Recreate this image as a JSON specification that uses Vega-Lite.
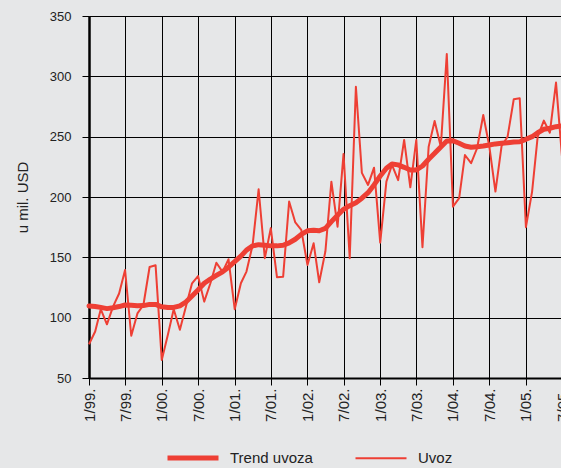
{
  "$schema": "https://vega.github.io/schema/vega-lite/v6.json",
  "autosize": {"type": "none"},
  "width": 473,
  "height": 362,
  "padding": {"left": 89, "top": 16, "right": 0, "bottom": 90},
  "background": "#e6e7e8",
  "view": {"stroke": null},
  "config": {"font": "Liberation Sans"},
  "data": {"values": [
    {"date": "1999-01-01", "Uvoz": 78, "Trend uvoza": 109.7},
    {"date": "1999-02-01", "Uvoz": 88.5, "Trend uvoza": 109.3},
    {"date": "1999-03-01", "Uvoz": 107, "Trend uvoza": 108.5},
    {"date": "1999-04-01", "Uvoz": 94.5, "Trend uvoza": 107.5},
    {"date": "1999-05-01", "Uvoz": 109, "Trend uvoza": 108.2},
    {"date": "1999-06-01", "Uvoz": 120, "Trend uvoza": 109.2},
    {"date": "1999-07-01", "Uvoz": 139.5, "Trend uvoza": 110.5},
    {"date": "1999-08-01", "Uvoz": 85, "Trend uvoza": 110.3},
    {"date": "1999-09-01", "Uvoz": 103.5, "Trend uvoza": 109.8},
    {"date": "1999-10-01", "Uvoz": 110.5, "Trend uvoza": 110},
    {"date": "1999-11-01", "Uvoz": 142, "Trend uvoza": 111},
    {"date": "1999-12-01", "Uvoz": 143.5, "Trend uvoza": 111},
    {"date": "2000-01-01", "Uvoz": 65, "Trend uvoza": 109},
    {"date": "2000-02-01", "Uvoz": 86, "Trend uvoza": 108.5},
    {"date": "2000-03-01", "Uvoz": 107, "Trend uvoza": 108.5},
    {"date": "2000-04-01", "Uvoz": 90, "Trend uvoza": 109.8},
    {"date": "2000-05-01", "Uvoz": 109, "Trend uvoza": 113},
    {"date": "2000-06-01", "Uvoz": 128.5, "Trend uvoza": 118},
    {"date": "2000-07-01", "Uvoz": 134.5, "Trend uvoza": 123},
    {"date": "2000-08-01", "Uvoz": 113.3, "Trend uvoza": 128.5},
    {"date": "2000-09-01", "Uvoz": 128.5, "Trend uvoza": 132},
    {"date": "2000-10-01", "Uvoz": 145.5, "Trend uvoza": 135},
    {"date": "2000-11-01", "Uvoz": 138, "Trend uvoza": 138},
    {"date": "2000-12-01", "Uvoz": 148.4, "Trend uvoza": 141.8},
    {"date": "2001-01-01", "Uvoz": 107, "Trend uvoza": 146.4},
    {"date": "2001-02-01", "Uvoz": 128.5, "Trend uvoza": 151},
    {"date": "2001-03-01", "Uvoz": 138.2, "Trend uvoza": 156},
    {"date": "2001-04-01", "Uvoz": 160.3, "Trend uvoza": 159.5},
    {"date": "2001-05-01", "Uvoz": 206.4, "Trend uvoza": 160.5},
    {"date": "2001-06-01", "Uvoz": 149.3, "Trend uvoza": 160},
    {"date": "2001-07-01", "Uvoz": 174.2, "Trend uvoza": 159.5},
    {"date": "2001-08-01", "Uvoz": 133.5, "Trend uvoza": 159.5},
    {"date": "2001-09-01", "Uvoz": 134, "Trend uvoza": 160},
    {"date": "2001-10-01", "Uvoz": 196.2, "Trend uvoza": 162},
    {"date": "2001-11-01", "Uvoz": 178.9, "Trend uvoza": 165},
    {"date": "2001-12-01", "Uvoz": 172.7, "Trend uvoza": 169},
    {"date": "2002-01-01", "Uvoz": 143.7, "Trend uvoza": 172},
    {"date": "2002-02-01", "Uvoz": 161.6, "Trend uvoza": 172.5},
    {"date": "2002-03-01", "Uvoz": 129.3, "Trend uvoza": 172},
    {"date": "2002-04-01", "Uvoz": 155, "Trend uvoza": 174},
    {"date": "2002-05-01", "Uvoz": 212.7, "Trend uvoza": 179.6},
    {"date": "2002-06-01", "Uvoz": 175.4, "Trend uvoza": 185},
    {"date": "2002-07-01", "Uvoz": 235.7, "Trend uvoza": 189.8},
    {"date": "2002-08-01", "Uvoz": 149.3, "Trend uvoza": 192.8},
    {"date": "2002-09-01", "Uvoz": 291.4, "Trend uvoza": 195.3},
    {"date": "2002-10-01", "Uvoz": 220, "Trend uvoza": 199},
    {"date": "2002-11-01", "Uvoz": 210, "Trend uvoza": 203.6},
    {"date": "2002-12-01", "Uvoz": 224.3, "Trend uvoza": 210},
    {"date": "2003-01-01", "Uvoz": 162.2, "Trend uvoza": 217.4},
    {"date": "2003-02-01", "Uvoz": 212.7, "Trend uvoza": 223.8},
    {"date": "2003-03-01", "Uvoz": 226.6, "Trend uvoza": 227.4},
    {"date": "2003-04-01", "Uvoz": 214, "Trend uvoza": 226.6},
    {"date": "2003-05-01", "Uvoz": 247.3, "Trend uvoza": 224.6},
    {"date": "2003-06-01", "Uvoz": 208, "Trend uvoza": 222.4},
    {"date": "2003-07-01", "Uvoz": 247.3, "Trend uvoza": 222.4},
    {"date": "2003-08-01", "Uvoz": 158.4, "Trend uvoza": 225.7},
    {"date": "2003-09-01", "Uvoz": 241.7, "Trend uvoza": 231.3},
    {"date": "2003-10-01", "Uvoz": 263, "Trend uvoza": 236.2},
    {"date": "2003-11-01", "Uvoz": 241.7, "Trend uvoza": 241.5},
    {"date": "2003-12-01", "Uvoz": 318.5, "Trend uvoza": 246.4},
    {"date": "2004-01-01", "Uvoz": 192, "Trend uvoza": 246.6},
    {"date": "2004-02-01", "Uvoz": 199, "Trend uvoza": 244.5},
    {"date": "2004-03-01", "Uvoz": 234.8, "Trend uvoza": 242.3},
    {"date": "2004-04-01", "Uvoz": 228, "Trend uvoza": 241.2},
    {"date": "2004-05-01", "Uvoz": 240.4, "Trend uvoza": 241.7},
    {"date": "2004-06-01", "Uvoz": 268, "Trend uvoza": 242.3},
    {"date": "2004-07-01", "Uvoz": 242.3, "Trend uvoza": 243.1},
    {"date": "2004-08-01", "Uvoz": 204.5, "Trend uvoza": 244},
    {"date": "2004-09-01", "Uvoz": 242.3, "Trend uvoza": 244.5},
    {"date": "2004-10-01", "Uvoz": 250, "Trend uvoza": 245},
    {"date": "2004-11-01", "Uvoz": 281, "Trend uvoza": 245.6},
    {"date": "2004-12-01", "Uvoz": 281.8, "Trend uvoza": 245.8},
    {"date": "2005-01-01", "Uvoz": 175, "Trend uvoza": 247.8},
    {"date": "2005-02-01", "Uvoz": 204.5, "Trend uvoza": 250},
    {"date": "2005-03-01", "Uvoz": 250, "Trend uvoza": 253.3},
    {"date": "2005-04-01", "Uvoz": 263.3, "Trend uvoza": 256.1},
    {"date": "2005-05-01", "Uvoz": 253.3, "Trend uvoza": 257},
    {"date": "2005-06-01", "Uvoz": 294.8, "Trend uvoza": 258.3},
    {"date": "2005-07-01", "Uvoz": 233.4, "Trend uvoza": 259}
  ]},
  "transform": [{"fold": ["Trend uvoza", "Uvoz"], "as": ["series", "value"]}],
  "encoding": {
    "x": {
      "field": "date", "type": "temporal",
      "scale": {"type": "utc", "nice": false, "domain": [{"year": 1999, "month": 1, "date": 1, "utc": true}, {"year": 2005, "month": 7, "date": 1, "utc": true}]},
      "axis": {
        "title": null, "tickCount": {"interval": "month", "step": 6}, "format": "%-m/%y.",
        "labelAngle": -90, "labelFontSize": 15, "labelColor": "#222", "labelPadding": 3,
        "labelFlush": false, "labelOverlap": false, "labelBound": false,
        "tickSize": 7, "tickColor": "#000", "tickWidth": 1,
        "domainColor": "#000", "domainWidth": 2,
        "grid": true, "gridColor": "#000", "gridWidth": 1, "gridOpacity": 1
      }
    },
    "y": {
      "field": "value", "type": "quantitative",
      "scale": {"domain": [50, 350], "nice": false, "zero": false},
      "axis": {
        "values": [50, 100, 150, 200, 250, 300, 350],
        "title": "u mil. USD", "titleFontSize": 15, "titleFontWeight": "normal", "titleColor": "#222",
        "titleAngle": -90, "titleX": -67, "titleY": 181, "titleAlign": "center", "titleBaseline": "middle",
        "labelFontSize": 13, "labelColor": "#222", "labelPadding": 11,
        "tickSize": 7, "tickColor": "#000", "tickWidth": 1,
        "domainColor": "#000", "domainWidth": 2.5,
        "grid": true, "gridColor": "#000", "gridWidth": 1, "gridOpacity": 1
      }
    },
    "color": {
      "field": "series", "type": "nominal",
      "scale": {"domain": ["Trend uvoza", "Uvoz"], "range": ["#ee3f34", "#ee3f34"]},
      "legend": {"title": null, "orient": "none", "legendX": 76, "legendY": 414, "direction": "horizontal", "columns": 2,
        "symbolType": "stroke", "symbolSize": 2601, "labelFontSize": 15, "labelColor": "#222", "labelOffset": 9, "columnPadding": 38}
    },
    "strokeWidth": {
      "field": "series", "type": "nominal",
      "scale": {"type": "ordinal", "domain": ["Trend uvoza", "Uvoz"], "range": [5, 2]},
      "legend": {"title": null, "orient": "none", "legendX": 76, "legendY": 414, "direction": "horizontal", "columns": 2,
        "symbolType": "stroke", "symbolSize": 2601, "labelFontSize": 15, "labelColor": "#222", "labelOffset": 9, "columnPadding": 38}
    }
  },
  "layer": [
    {"transform": [{"filter": "datum.series === 'Uvoz'"}], "mark": {"type": "line", "strokeJoin": "round"}},
    {"transform": [{"filter": "datum.series === 'Trend uvoza'"}], "mark": {"type": "line", "strokeJoin": "round", "strokeCap": "round"}}
  ]
}
